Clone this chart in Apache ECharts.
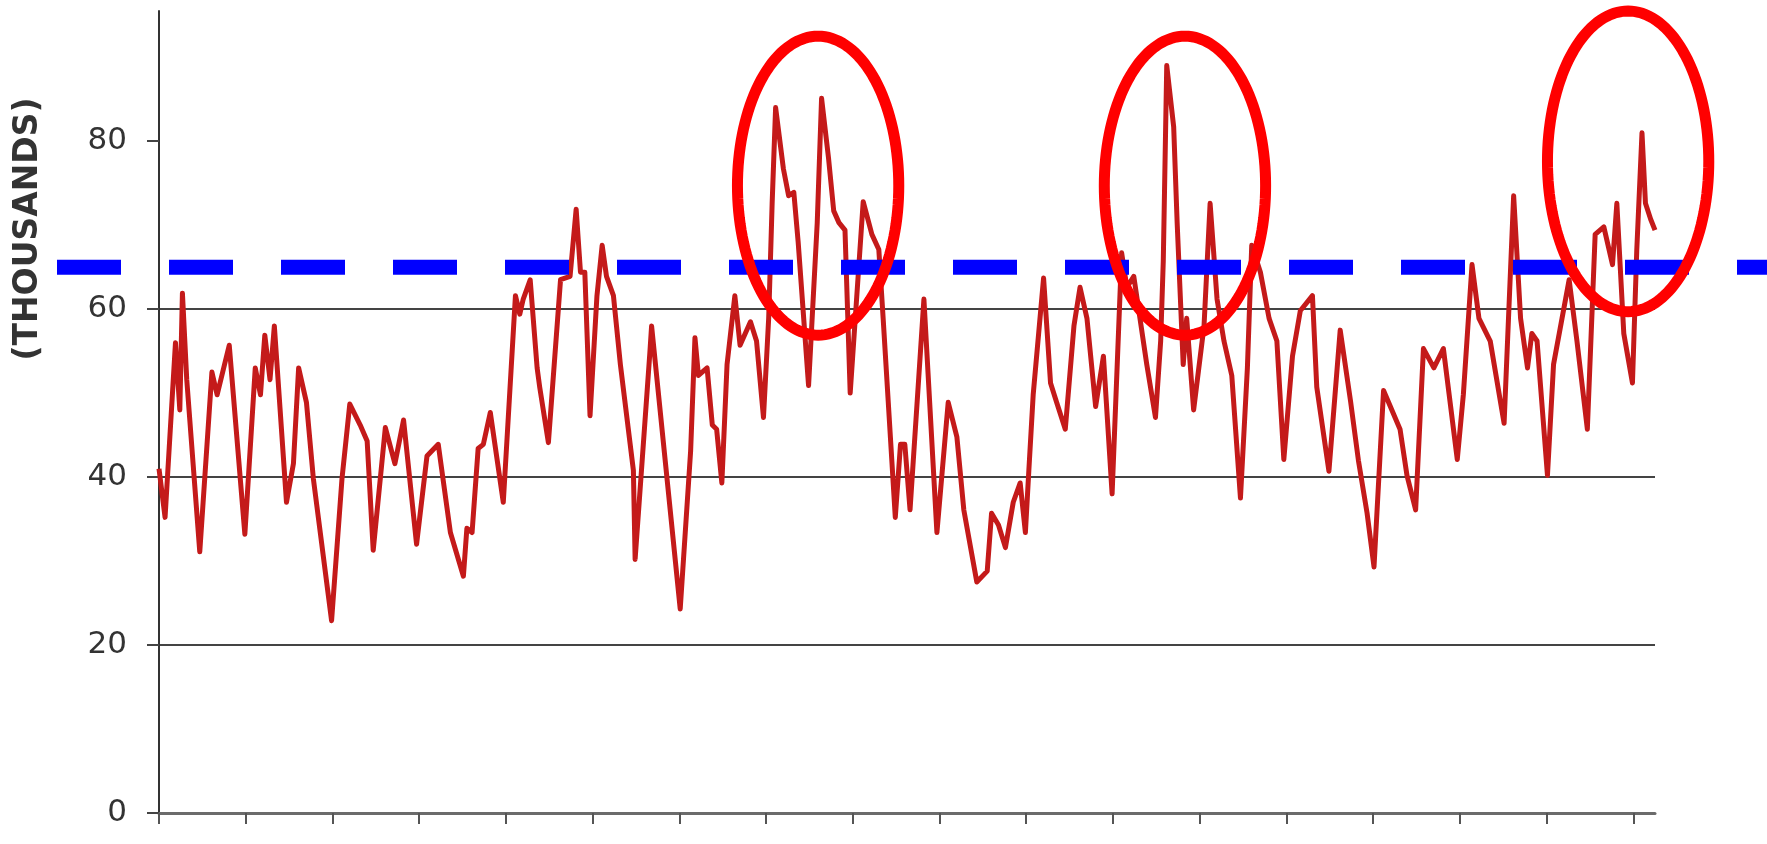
<!DOCTYPE html>
<html>
<head>
<meta charset="utf-8">
<script src="https://cdn.jsdelivr.net/npm/echarts@6/dist/echarts.min.js"></script>
<style>
html,body{margin:0;padding:0;background:#fff;}
#chart{width:1767px;height:844px;}
</style>
</head>
<body>
<div id="chart"></div>
<script>
// time position (years from start of axis) of each reading
const yearPos = [
0, 0.07, 0.19, 0.24, 0.27, 0.32, 0.47, 0.61, 0.67, 0.81,
0.99, 1.11, 1.17, 1.22, 1.28, 1.33, 1.47, 1.55, 1.61, 1.70,
1.78, 1.99, 2.11, 2.20, 2.32, 2.40, 2.47, 2.61, 2.72, 2.82,
2.97, 3.09, 3.22, 3.36, 3.51, 3.55, 3.61, 3.68, 3.74, 3.82,
3.97, 4.11, 4.16, 4.20, 4.28, 4.36, 4.39, 4.49, 4.63, 4.74,
4.81, 4.86, 4.91, 4.97, 5.05, 5.11, 5.16, 5.24, 5.32, 5.47,
5.49, 5.66, 5.68, 6.01, 6.13, 6.18, 6.22, 6.32, 6.38, 6.43,
6.49, 6.55, 6.64, 6.70, 6.82, 6.89, 6.97, 7.03, 7.07, 7.11,
7.20, 7.26, 7.32, 7.37, 7.49, 7.59, 7.64, 7.72, 7.78, 7.84,
7.91, 7.97, 8.12, 8.22, 8.30, 8.35, 8.49, 8.55, 8.60, 8.66,
8.82, 8.97, 9.10, 9.20, 9.28, 9.43, 9.55, 9.60, 9.68, 9.76,
9.85, 9.93, 9.99, 10.03, 10.08, 10.20, 10.28, 10.35, 10.45, 10.55,
10.62, 10.70, 10.80, 10.89, 10.99, 11.10, 11.16, 11.24, 11.39, 11.49,
11.55, 11.58, 11.62, 11.70, 11.74, 11.81, 11.85, 11.93, 12.05, 12.12,
12.20, 12.28, 12.37, 12.47, 12.55, 12.60, 12.70, 12.80, 12.89, 12.97,
13.07, 13.16, 13.30, 13.35, 13.49, 13.62, 13.74, 13.83, 13.93, 14.01,
14.12, 14.31, 14.39, 14.49, 14.58, 14.70, 14.81, 14.97, 15.04, 15.14,
15.22, 15.35, 15.51, 15.62, 15.70, 15.78, 15.83, 15.89, 16.01, 16.08,
16.26, 16.35, 16.47, 16.56, 16.66, 16.76, 16.81, 16.89, 16.99, 17.04,
17.10, 17.14, 17.20, 17.25
];
// values in thousands
const thousands = [
41, 35.2, 56, 48, 61.9, 51.6, 31.1, 52.5, 49.8, 55.7,
33.2, 53, 49.8, 56.9, 51.6, 58, 37, 41.6, 53, 48.9,
39.8, 22.9, 39.8, 48.7, 46.2, 44.3, 31.3, 45.9, 41.6, 46.8,
32, 42.5, 43.9, 33.4, 28.2, 33.9, 33.4, 43.4, 43.9, 47.7,
37, 61.6, 59.4, 61.2, 63.5, 53, 50.7, 44.1, 63.5, 63.9,
71.9, 64.4, 64.4, 47.3, 61.6, 67.6, 63.9, 61.6, 53.4, 40.8,
30.2, 54.8, 58, 24.3, 43.1, 56.6, 52.1, 53, 46.2, 45.7,
39.3, 53.4, 61.6, 55.7, 58.5, 56.2, 47.1, 58.9, 72.6, 84,
76.7, 73.5, 73.9, 68, 50.9, 70.3, 85.1, 78, 71.7, 70.3,
69.4, 50, 72.8, 68.9, 67.1, 58.9, 35.2, 43.9, 43.9, 36.1,
61.2, 33.4, 48.9, 44.8, 36.1, 27.5, 28.8, 35.7, 34.3, 31.6,
37, 39.3, 33.4, 40.8, 49.8, 63.7, 51.2, 48.9, 45.7, 58,
62.6, 58.9, 48.4, 54.4, 38, 66.7, 62.6, 63.9, 53.4, 47.1,
56.2, 65.7, 89, 81.7, 70.3, 53.4, 58.9, 48, 58, 72.6,
61.2, 56.2, 52.1, 37.5, 53, 67.6, 64.4, 58.9, 56.2, 42.1,
54.4, 59.8, 61.6, 50.7, 40.7, 57.5, 49, 42, 35.7, 29.3,
50.3, 45.7, 40.2, 36.1, 55.3, 53, 55.3, 42.1, 49.8, 65.3,
58.9, 56.2, 46.4, 73.5, 58.9, 53, 57.1, 56.2, 40.2, 53.4,
63.5, 56.2, 45.7, 68.9, 69.8, 65.3, 72.6, 57.1, 51.2, 67.1,
81, 72.6, 70.7, 69.4
];
const yTicks = [0, 20, 40, 60, 80];
const xTicks = [0,1,2,3,4,5,6,7,8,9,10,11,12,13,14,15,16,17];
const yAxisTitle = '(THOUSANDS)';
const threshold = 65;
// circled spikes: [centre year, centre value, half-width in years, half-height in thousands]
const highlights = [
  [7.60, 74.7, 0.93, 17.8],
  [11.83, 74.7, 0.93, 17.8],
  [16.94, 77.6, 0.93, 17.9]
];

const seriesData = yearPos.map((x, i) => [x, thousands[i]]);

const chart = echarts.init(document.getElementById('chart'), null, {renderer: 'canvas'});
chart.setOption({
  animation: false,
  backgroundColor: '#ffffff',
  grid: [
    {left: 159, right: 112, top: 11, bottom: 31},
    {left: 57, right: 0, top: 11, bottom: 31}
  ],
  xAxis: [
    {
      type: 'value', gridIndex: 0, min: 0, max: 17.25, interval: 1,
      axisLine: {show: true, lineStyle: {color: '#6b6b6b', width: 3}},
      axisTick: {show: true, length: 11, customValues: xTicks, lineStyle: {color: '#555', width: 2}},
      axisLabel: {show: false},
      splitLine: {show: false}
    },
    {type: 'value', gridIndex: 1, min: 0, max: 1, show: false}
  ],
  yAxis: [
    {
      type: 'value', gridIndex: 0, min: 0, max: 95.5, interval: 20,
      axisLine: {show: true, lineStyle: {color: '#333', width: 2}},
      axisTick: {show: true, length: 12, customValues: yTicks, lineStyle: {color: '#444', width: 2}},
      axisLabel: {customValues: yTicks, margin: 32, fontFamily: 'DejaVu Sans', fontSize: 31, color: '#333'},
      splitLine: {show: true, showMinLine: false, showMaxLine: false, lineStyle: {color: '#444', width: 2}}
    },
    {type: 'value', gridIndex: 1, min: 0, max: 95.5, show: false}
  ],
  graphic: [
    {
      type: 'text', x: 28, y: 229, rotation: Math.PI / 2,
      style: {
        text: yAxisTitle, font: 'bold 33px "DejaVu Sans"', fill: '#333',
        align: 'center', verticalAlign: 'middle',
        textAlign: 'center', textVerticalAlign: 'middle'
      }
    }
  ],
  series: [
    {
      type: 'line', xAxisIndex: 0, yAxisIndex: 0, data: seriesData,
      showSymbol: false, z: 2,
      lineStyle: {color: '#c41a1a', width: 5, join: 'round'}
    },
    {
      type: 'line', xAxisIndex: 1, yAxisIndex: 1,
      data: [[0, threshold], [1, threshold]],
      showSymbol: false, z: 4,
      lineStyle: {color: '#0000ff', width: 15, type: [64, 48], cap: 'butt'}
    },
    {
      type: 'custom', xAxisIndex: 0, yAxisIndex: 0, data: highlights,
      clip: false, silent: true, z: 5,
      renderItem: function (params, api) {
        const cx = api.value(0), cy = api.value(1), rx = api.value(2), ry = api.value(3);
        const pts = [];
        for (let k = 0; k < 144; k++) {
          const a = k / 144 * Math.PI * 2;
          pts.push(api.coord([cx + rx * Math.cos(a), cy + ry * Math.sin(a)]));
        }
        return {
          type: 'polygon',
          shape: {points: pts},
          style: {fill: 'none', stroke: '#ff0000', lineWidth: 11}
        };
      }
    }
  ]
});
</script>
</body>
</html>
